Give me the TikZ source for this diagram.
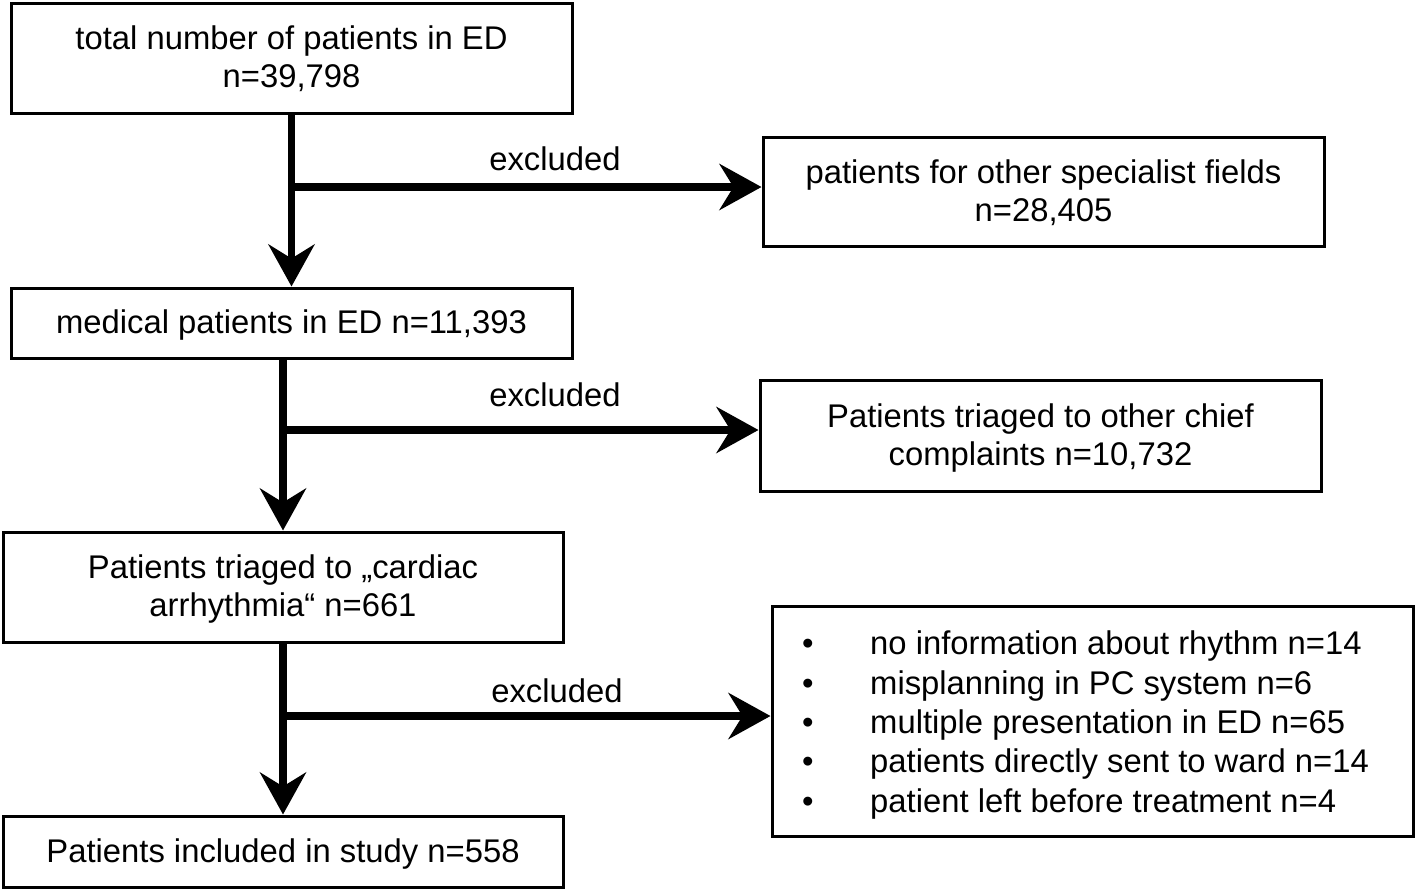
\documentclass[tikz,border=0pt]{standalone}
\usepackage{fontspec}
\setmainfont{Liberation Sans}
\usetikzlibrary{arrows.meta,calc}
\newcommand{\flowfont}{\fontsize{32.8}{38}\selectfont}
\newcommand{\bulletfont}{\fontsize{32.8}{39.3}\selectfont}
\newcommand{\bl}{\makebox[68pt][l]{•}}
\newcommand{\tx}[1]{\raisebox{-3pt}[\height][\depth]{\begin{tabular}{@{}c@{}}#1\end{tabular}}}
\tikzset{
  box/.style={draw, line width=3pt, font=\flowfont, inner sep=0pt},
  arr/.style={line width=7.5pt, -{Stealth[length=42pt,width=46pt,inset=14pt]}},
  lbl/.style={font=\flowfont, inner sep=0pt}
}
\begin{document}
\begin{tikzpicture}[x=1pt,y=-1pt]
\useasboundingbox (0,0) rectangle (1416,892);
\node[box, minimum width=561pt, minimum height=110pt] (B1) at (291.5,58) {\tx{total number of patients in ED\\n=39,798}};
\node[box, minimum width=561pt, minimum height=109pt] (B2) at (1043.5,191.5) {\tx{patients for other specialist fields\\n=28,405}};
\node[box, minimum width=561pt, minimum height=70pt] (B3) at (291.5,323) {\tx{medical patients in ED n=11,393}};
\node[box, minimum width=561pt, minimum height=111pt] (B4) at (1040.5,435.5) {\tx{Patients triaged to other chief\\complaints n=10,732}};
\node[box, minimum width=560pt, minimum height=110pt] (B5) at (283,587) {\tx{Patients triaged to „cardiac\\arrhythmia“ n=661}};
\node[box, minimum width=641pt, minimum height=230pt] (B6) at (1092.5,721) {};
\node[box, minimum width=560pt, minimum height=71pt] (B7) at (283,851.5) {\tx{Patients included in study n=558}};
\node[anchor=west, align=left, font=\bulletfont, inner sep=0pt] (L6) at (802,725) {\bl no information about rhythm n=14\\\bl misplanning in PC system n=6\\\bl multiple presentation in ED n=65\\\bl patients directly sent to ward n=14\\\bl patient left before treatment n=4};
% vertical flow
\draw[arr] (B1.south) -- (B3.north);
\draw[arr] (B5.north |- B3.south) -- (B5.north);
\draw[arr] (B5.south) -- (B7.north);
% branches
\coordinate (j1) at (291.5,187);
\coordinate (j2) at (283,430);
\coordinate (j3) at (283,716);
\draw[arr] (j1) -- (B2.west |- j1);
\draw[arr] (j2) -- (B4.west |- j2);
\draw[arr] (j3) -- (B6.west |- j3);
\node[lbl] (e1) at (555,159) {excluded};
\node[lbl] (e2) at (555,395) {excluded};
\node[lbl] (e3) at (557,691) {excluded};
\end{tikzpicture}
\end{document}
